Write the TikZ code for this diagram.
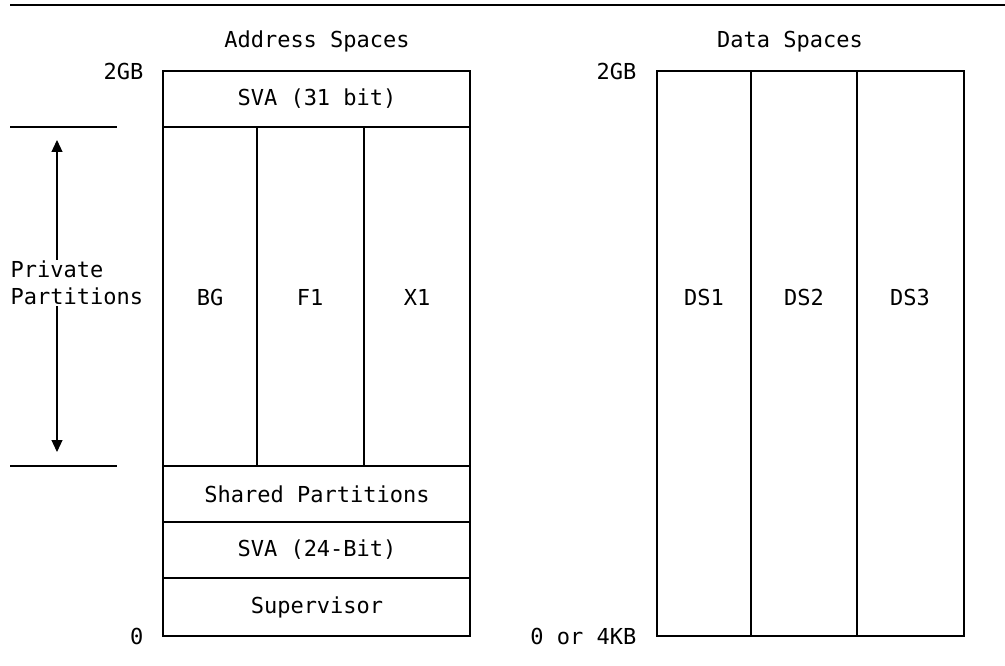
\documentclass[tikz,border=0pt]{standalone}
\usepackage{fontspec}
\setmainfont{DejaVu Sans Mono}
\usetikzlibrary{arrows.meta}

\begin{document}
\begin{tikzpicture}[
   x=1pt, y=-1pt,
   line width=1.2pt,
   lbl/.style={font=\fontsize{22}{27}\selectfont, inner sep=0pt},
   ]
   \useasboundingbox (0,0) rectangle (1005,666);

   % rule across the top
   \draw (10,5) -- (1005,5);

   % address spaces: outline, rows and partition columns
   \draw (163,71) rectangle (470,636);
   \foreach \y in {127,466,522,578}
   \draw (163,\y) -- (470,\y);
   \foreach \x in {257,364}
   \draw (\x,127) -- (\x,466);

   \node[lbl, anchor=base] (astitle) at (317,48) {Address Spaces};
   \node[lbl, anchor=east] (astop) at (144,71) {2GB};
   \node[lbl, anchor=east] (asbot) at (144,636) {0};

   \node[lbl] (sva31) at (317,99) {SVA (31 bit)};
   \node[lbl] (shared) at (317,494) {Shared Partitions};
   \node[lbl] (sva24) at (317,550) {SVA (24-Bit)};
   \node[lbl] (super) at (317,607) {Supervisor};

   % private partitions
   \foreach \x/\t [count=\i] in {210/BG, 310/F1, 417/X1}
   \node[lbl] (pp\i) at (\x,297) {\t};

   % extent of the private area, left side
   \draw (10,127) -- (117,127);
   \draw (10,466) -- (117,466);
   \coordinate (ptop) at (57,140);
   \coordinate (pbot) at (57,452);
   \draw[{Triangle[length=12pt,width=11pt]}-{Triangle[length=12pt,width=11pt]}] (ptop) -- (pbot);
   \node[lbl, anchor=west, align=left, fill=white, inner ysep=1pt] (private) at (10,283) {Private\\Partitions};

   % data spaces
   \draw (657,71) rectangle (964,636);
   \foreach \x in {751,857}
   \draw (\x,71) -- (\x,636);

   \node[lbl, anchor=base] (dstitle) at (790,48) {Data Spaces};
   \node[lbl, anchor=east] (dstop) at (637,71) {2GB};
   \node[lbl, anchor=east] (dsbot) at (637,636) {0 or 4KB};

   \foreach \x/\t [count=\i] in {704/DS1, 804/DS2, 910/DS3}
   \node[lbl] (ds\i) at (\x,297) {\t};
\end{tikzpicture}
\end{document}
